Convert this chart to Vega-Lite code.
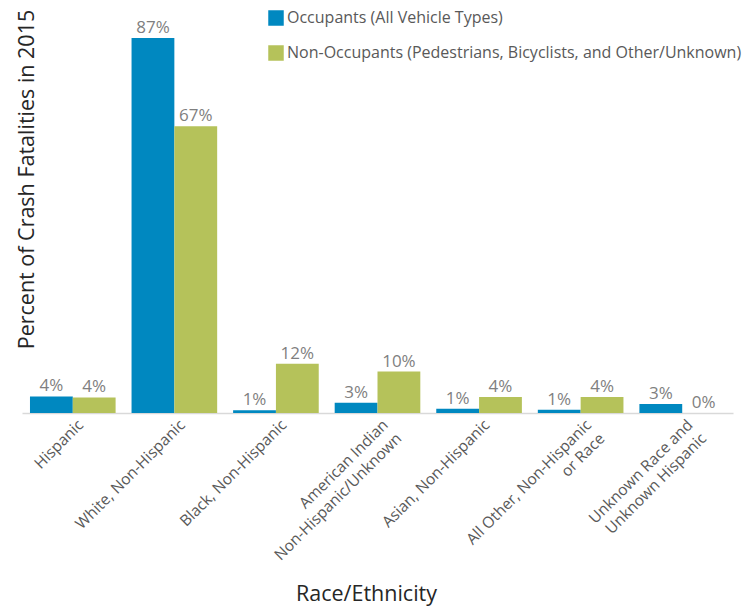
{
  "$schema": "https://vega.github.io/schema/vega-lite/v6.json",
  "width": 711,
  "height": 375,
  "autosize": {"type": "none"},
  "padding": {"left": 22, "top": 38, "right": 21, "bottom": 193},
  "background": "white",
  "config": {"view": {"stroke": null}, "font": "Open Sans"},
  "data": {
    "values": [
      {"cat": "Hispanic", "series": "Occupants (All Vehicle Types)", "value": 3.85, "label": "4%"},
      {"cat": "Hispanic", "series": "Non-Occupants (Pedestrians, Bicyclists, and Other/Unknown)", "value": 3.6, "label": "4%"},
      {"cat": "White, Non-Hispanic", "series": "Occupants (All Vehicle Types)", "value": 87, "label": "87%"},
      {"cat": "White, Non-Hispanic", "series": "Non-Occupants (Pedestrians, Bicyclists, and Other/Unknown)", "value": 66.5, "label": "67%"},
      {"cat": "Black, Non-Hispanic", "series": "Occupants (All Vehicle Types)", "value": 0.65, "label": "1%"},
      {"cat": "Black, Non-Hispanic", "series": "Non-Occupants (Pedestrians, Bicyclists, and Other/Unknown)", "value": 11.4, "label": "12%"},
      {"cat": "American Indian\nNon-Hispanic/Unknown", "series": "Occupants (All Vehicle Types)", "value": 2.4, "label": "3%"},
      {"cat": "American Indian\nNon-Hispanic/Unknown", "series": "Non-Occupants (Pedestrians, Bicyclists, and Other/Unknown)", "value": 9.6, "label": "10%"},
      {"cat": "Asian, Non-Hispanic", "series": "Occupants (All Vehicle Types)", "value": 1.0, "label": "1%"},
      {"cat": "Asian, Non-Hispanic", "series": "Non-Occupants (Pedestrians, Bicyclists, and Other/Unknown)", "value": 3.7, "label": "4%"},
      {"cat": "All Other, Non-Hispanic\nor Race", "series": "Occupants (All Vehicle Types)", "value": 0.77, "label": "1%"},
      {"cat": "All Other, Non-Hispanic\nor Race", "series": "Non-Occupants (Pedestrians, Bicyclists, and Other/Unknown)", "value": 3.7, "label": "4%"},
      {"cat": "Unknown Race and\nUnknown Hispanic", "series": "Occupants (All Vehicle Types)", "value": 2.1, "label": "3%"},
      {"cat": "Unknown Race and\nUnknown Hispanic", "series": "Non-Occupants (Pedestrians, Bicyclists, and Other/Unknown)", "value": 0, "label": "0%"}
    ]
  },
  "encoding": {
    "x": {
      "field": "cat",
      "type": "nominal",
      "sort": null,
      "scale": {"paddingInner": 0.157, "paddingOuter": 0.0785},
      "axis": {
        "title": "Race/Ethnicity",
        "titleFontSize": 21.5,
        "titleFontWeight": "normal",
        "titleColor": "#262626",
        "titleX": 344,
        "titleY": 187,
        "titleBaseline": "alphabetic",
        "titleAnchor": null,
        "titleAlign": "center",
        "labelAngle": -45,
        "labelAlign": "right",
        "labelBaseline": "middle",
        "labelFontSize": 15.5,
        "labelColor": "#595959",
        "labelPadding": 9,
        "labelOffset": 8,
        "labelExpr": "split(datum.label, '\\n')",
        "labelLineHeight": 19,
        "ticks": false,
        "domainColor": "#d9d9d9",
        "domainWidth": 1.5
      }
    },
    "xOffset": {
      "field": "series",
      "type": "nominal",
      "sort": ["Occupants (All Vehicle Types)", "Non-Occupants (Pedestrians, Bicyclists, and Other/Unknown)"]
    },
    "y": {
      "field": "value",
      "type": "quantitative",
      "scale": {"domain": [0, 87], "nice": false},
      "axis": {
        "title": "Percent of Crash Fatalities in 2015",
        "titleFontSize": 21.5,
        "titleFontWeight": "normal",
        "titleColor": "#262626",
        "titleX": 11,
        "titleY": 141,
        "titleBaseline": "alphabetic",
        "titleAngle": -90,
        "titleAlign": "center",
        "domain": false,
        "ticks": false,
        "labels": false,
        "grid": false
      }
    }
  },
  "layer": [
    {
      "mark": {"type": "bar"},
      "encoding": {
        "color": {
          "field": "series",
          "type": "nominal",
          "sort": ["Occupants (All Vehicle Types)", "Non-Occupants (Pedestrians, Bicyclists, and Other/Unknown)"],
          "scale": {"range": ["#0088C0", "#B5C25A"]},
          "legend": {
            "title": null,
            "orient": "none",
            "legendX": 246,
            "legendY": -28,
            "padding": 0,
            "symbolType": "square",
            "symbolSize": 240,
            "symbolStrokeWidth": 0,
            "symbolOpacity": 1,
            "labelFontSize": 16,
            "labelColor": "#595959",
            "labelOffset": 3,
            "labelLimit": 500,
            "rowPadding": 19
          }
        }
      }
    },
    {
      "mark": {"type": "text", "baseline": "alphabetic", "dy": -5, "fontSize": 17, "color": "#7f7f7f"},
      "encoding": {"text": {"field": "label"}}
    }
  ]
}
